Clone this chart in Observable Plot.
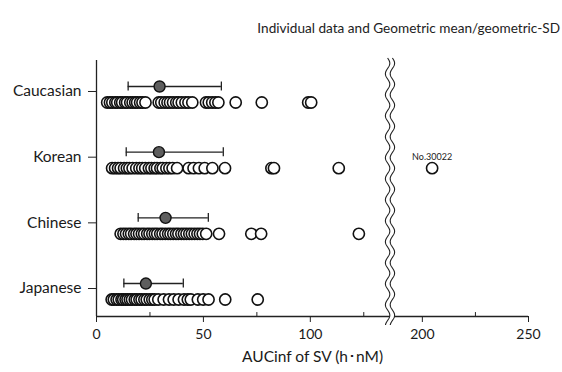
<!DOCTYPE html>
<html><head><meta charset="utf-8">
<script src="https://cdn.jsdelivr.net/npm/d3@7"></script>
<script src="https://cdn.jsdelivr.net/npm/@observablehq/plot@0.6"></script>
<style>
body{margin:0;background:#fff;}
#wrap{position:relative;width:562px;height:372px;}
#title{position:absolute;top:20px;right:2px;font:13.6px Lato, sans-serif;color:#222;white-space:nowrap;}
</style></head><body>
<div id="wrap"><div id="title">Individual data and Geometric mean/geometric-SD</div></div>
<script>
// categories from bottom (position 1) to top (position 4)
const categories = ["Japanese", "Chinese", "Korean", "Caucasian"];

// individual AUCinf values (h·nM)
const japanese = [7.1, 8.1, 9.4, 10.4, 11.7, 12.5, 13.6, 14.5, 15.6, 16.6, 17.9, 18.8, 20.1, 21.1, 22.4, 23.5, 24.9, 26.1, 27.2, 28.9, 31.4, 33.9, 36.1, 38.4, 40.9, 42.7, 44.1, 47.4, 49.9, 52.4, 60.2, 75.4];
const chinese = [11.3, 12.6, 13.8, 15.1, 16.2, 17.6, 18.7, 19.9, 21.2, 22.3, 23.7, 24.8, 26.1, 27.3, 28.4, 29.8, 30.9, 32.2, 33.5, 34.6, 35.9, 37.2, 38.3, 39.7, 40.9, 42.1, 43.4, 44.6, 45.9, 47.2, 48.4, 49.7, 51.3, 57.3, 72.4, 77.0, 122.7];
const korean = [7.3, 8.7, 10.1, 11.3, 12.9, 14.2, 15.4, 16.9, 18.6, 20.1, 21.4, 22.8, 24.5, 25.7, 27.2, 28.3, 29.9, 31.0, 32.7, 34.1, 35.6, 37.7, 43.1, 45.4, 47.9, 50.6, 54.2, 60.1, 81.8, 83.0, 113.3, 204.6];
const caucasian = [5.0, 6.3, 7.4, 8.8, 9.7, 11.1, 12.0, 13.4, 14.3, 15.8, 16.9, 18.1, 19.0, 20.4, 21.5, 22.9, 29.1, 30.3, 31.9, 33.2, 34.4, 35.8, 37.3, 38.4, 39.9, 41.6, 43.0, 44.8, 51.2, 52.5, 54.1, 55.6, 57.0, 65.1, 77.3, 99.0, 100.4];

// geometric mean and geometric mean ×/÷ geometric SD, same order as categories
const geoMean = [23.1, 32.3, 29.2, 29.5];
const geoLow = [12.8, 19.5, 13.9, 14.8];
const geoHigh = [40.6, 52.3, 59.3, 58.4];

const majorTicks = [0, 50, 100, 200, 250];
const minorTicks = [25, 75, 125, 225];
const axisBreak = [137.5, 185];
const outlierNote = [{category: "Korean", value: 204.6, text: "No.30022"}];

const series = [japanese, chinese, korean, caucasian];
const points = series.flatMap((arr, k) => arr.slice().sort((a, b) => a - b).map(v => ({cat: categories[k], i: k + 1, v})));
const summary = categories.map((c, k) => ({cat: c, i: k + 1, gm: geoMean[k], lo: geoLow[k], hi: geoHigh[k]}));

const yMin = 0.574, yMax = 4.472;

function breakMark(index, scales, values, dims) {
  const xb = scales.x(axisBreak[0]);
  const top = dims.marginTop - 2, bottom = dims.height - dims.marginBottom + 9;
  const amp = 2.2, period = 21, gap = 2.4;
  const ys = d3.range(top, bottom + 0.01, 0.5);
  const f = y => xb + amp * Math.sin((y - top) / period * 2 * Math.PI);
  const left = ys.map(y => [f(y) - gap, y]);
  const right = ys.map(y => [f(y) + gap, y]);
  const g = d3.create("svg:g");
  g.append("path").attr("d", d3.line()(left.concat(right.slice().reverse())) + "Z").attr("fill", "white");
  g.append("path").attr("d", d3.line()(left)).attr("fill", "none").attr("stroke", "#222").attr("stroke-width", 1.1);
  g.append("path").attr("d", d3.line()(right)).attr("fill", "none").attr("stroke", "#222").attr("stroke-width", 1.1);
  return g.node();
}

const plot = Plot.plot({
  width: 562, height: 372,
  marginLeft: 96, marginRight: 34, marginTop: 60, marginBottom: 56,
  style: {fontFamily: "Lato, sans-serif", color: "#1a1a1a", background: "transparent"},
  x: {type: "linear", domain: [0, axisBreak[0], axisBreak[1], 250], range: [96, 390, 390, 528]},
  y: {type: "linear", domain: [yMin, yMax]},
  marks: [
    Plot.ruleX([0], {stroke: "#222", strokeWidth: 1.3}),
    Plot.ruleY([yMin], {stroke: "#222", strokeWidth: 1.3}),
    Plot.axisX({ticks: majorTicks, tickSize: 6, tickPadding: 7, fontSize: 14, label: null, tickFormat: d => String(d), stroke: "#222"}),
    Plot.ruleX(minorTicks, {x: d => d, y1: yMin, y2: yMin + 0.06, stroke: "#222"}),
    Plot.axisY({ticks: [1, 2, 3, 4], tickFormat: i => categories[i - 1], tickSize: 8, tickPadding: 7, fontSize: 15.5, label: null, stroke: "#222"}),
    Plot.text(["AUCinf of SV (h･nM)"], {frameAnchor: "bottom", dy: 45, fontSize: 15.5, fill: "#1a1a1a"}),
    breakMark,
    Plot.ruleY(summary, {y: "i", x1: "lo", x2: "hi", dy: -5, stroke: "#222", strokeWidth: 1.3}),
    Plot.ruleX(summary, {x: "lo", y1: d => d.i - 0.068, y2: d => d.i + 0.068, dy: -5, stroke: "#222", strokeWidth: 1.3}),
    Plot.ruleX(summary, {x: "hi", y1: d => d.i - 0.068, y2: d => d.i + 0.068, dy: -5, stroke: "#222", strokeWidth: 1.3}),
    Plot.dot(summary, {x: "gm", y: "i", r: 5.5, dy: -5, fill: "#5e5e5e", stroke: "#111", strokeWidth: 1.4}),
    Plot.dot(points, {x: "v", y: "i", dy: 11, r: 5.6, fill: "white", stroke: "#111", strokeWidth: 1.6}),
    Plot.text(outlierNote, {x: "value", y: d => categories.indexOf(d.category) + 1, text: "text", fontSize: 9, dy: 0, fill: "#222"})
  ]
});
document.getElementById("wrap").appendChild(plot);
plot.style.position = "absolute";
plot.style.left = "0";
plot.style.top = "0";
document.getElementById("title").style.zIndex = "2";
</script>
</body></html>
